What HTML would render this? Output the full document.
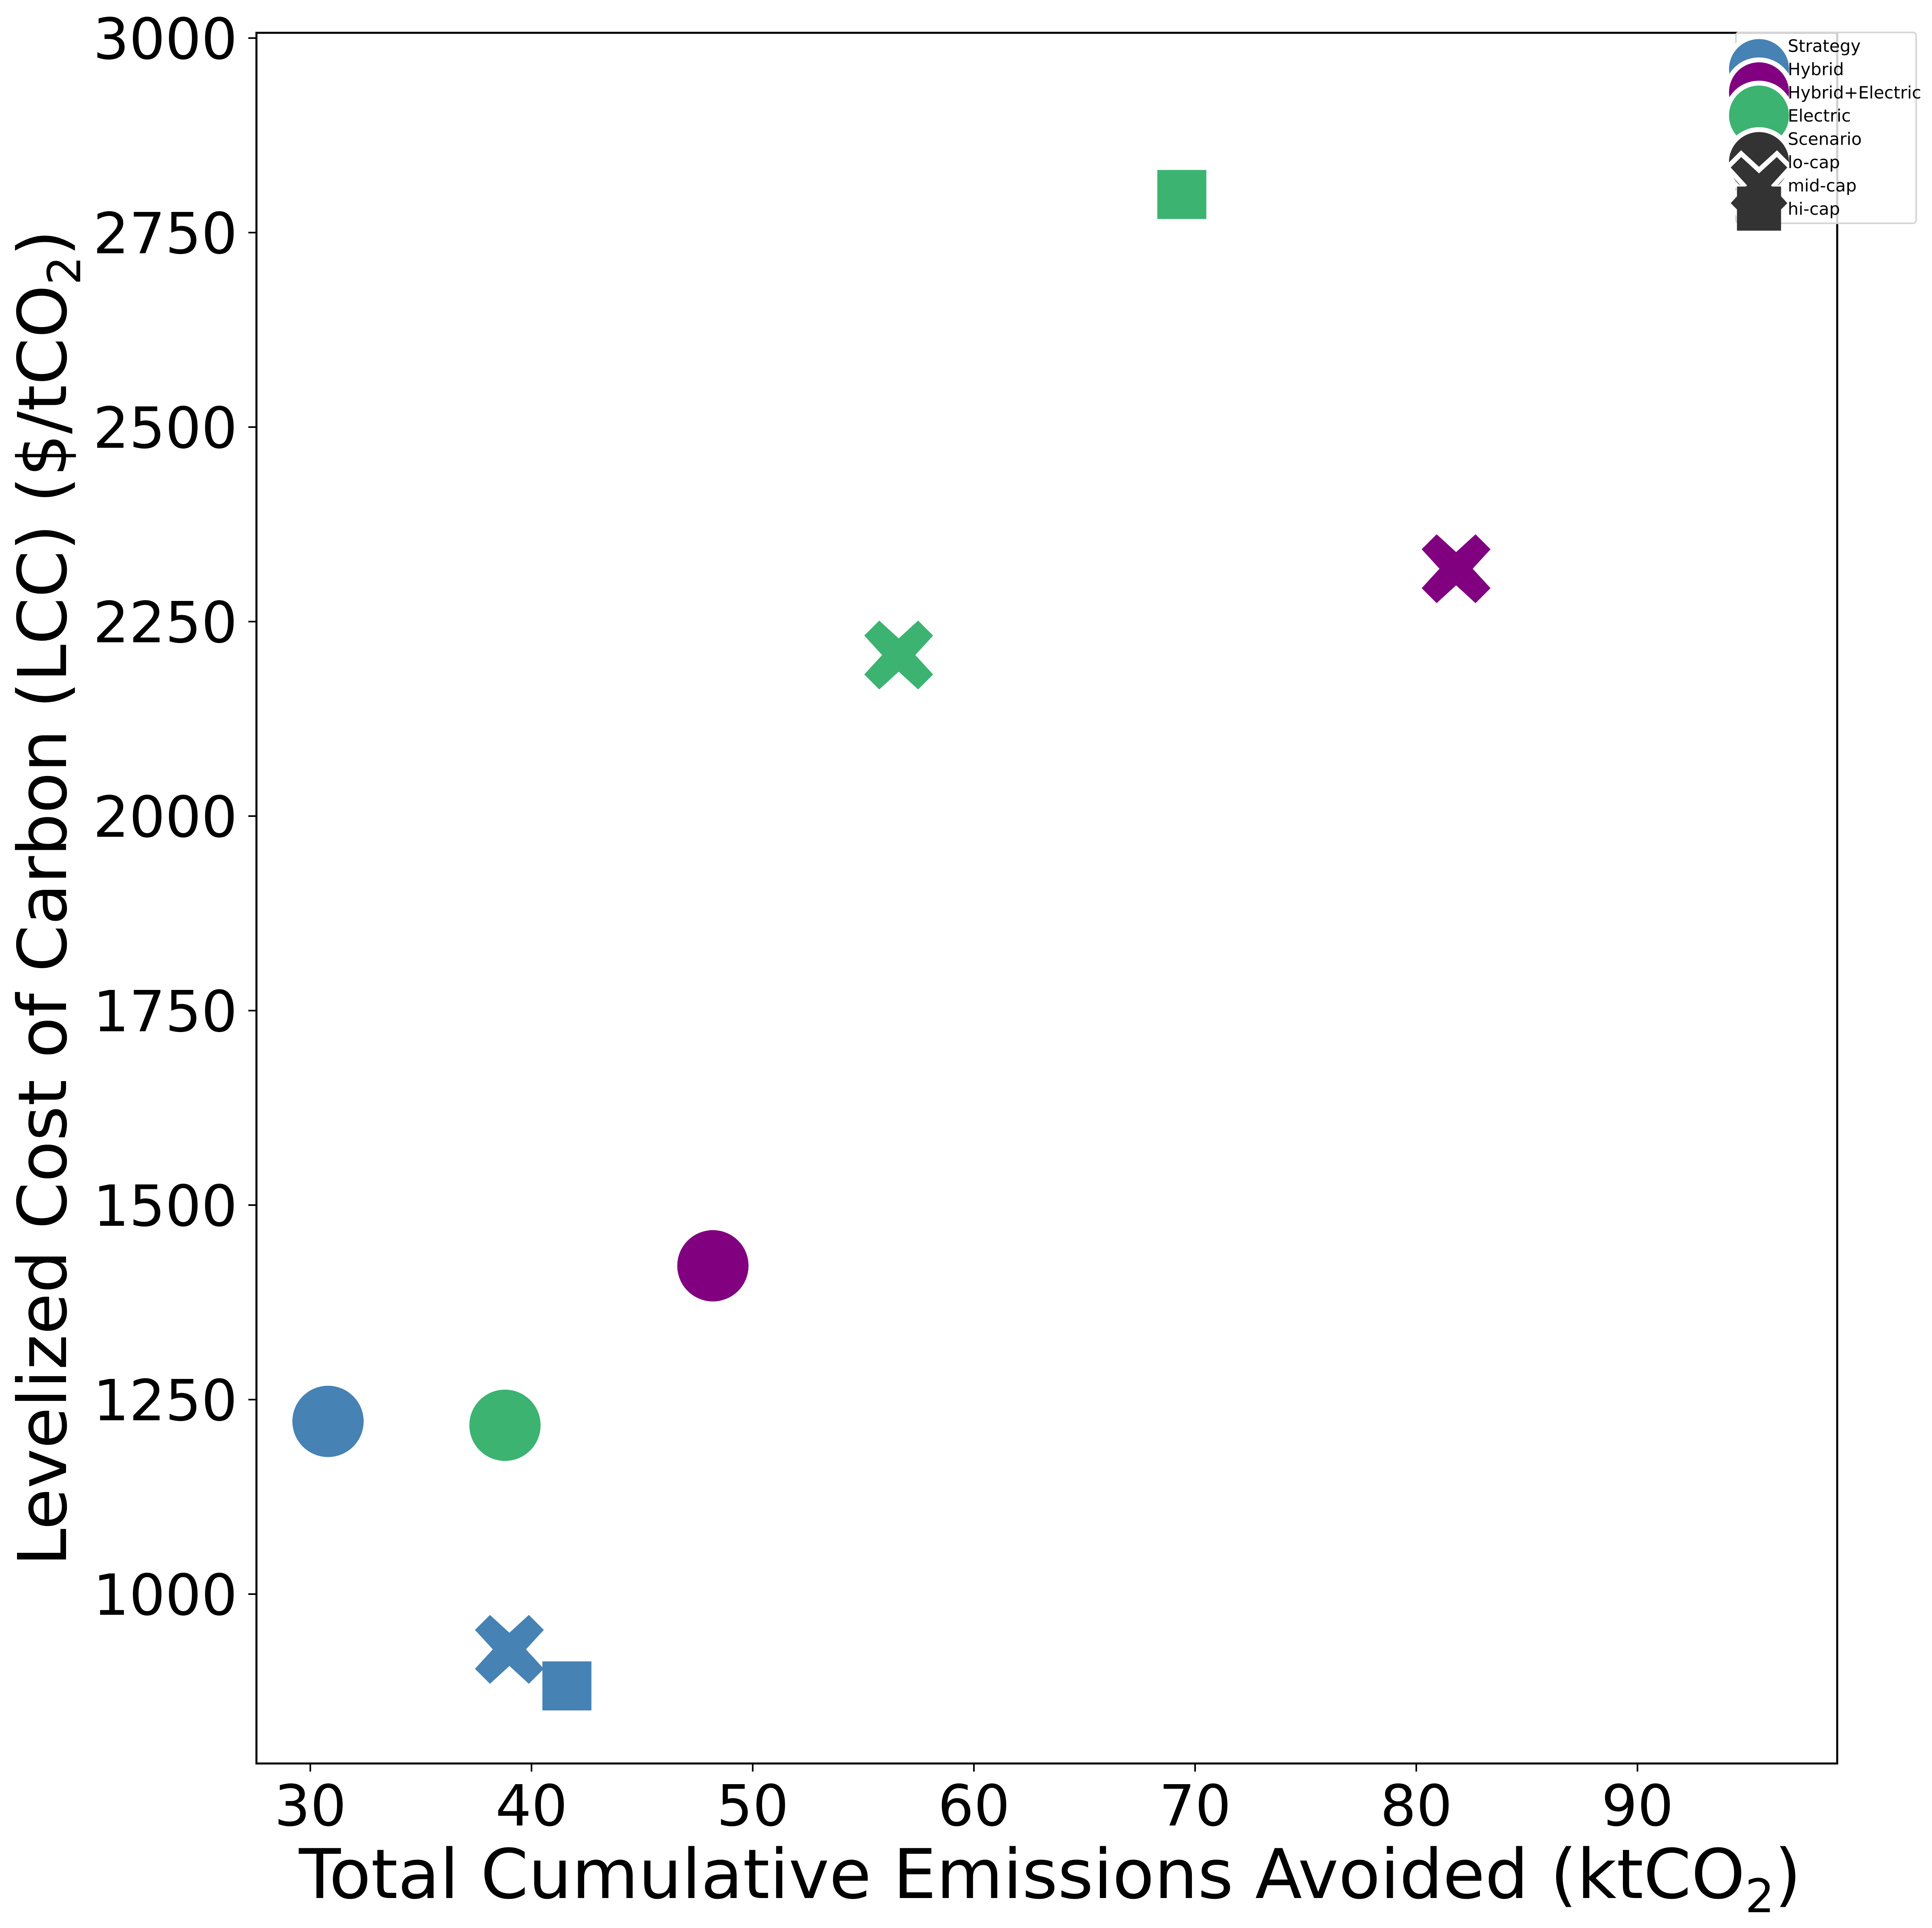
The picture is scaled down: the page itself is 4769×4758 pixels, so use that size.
<!DOCTYPE html>
<html><head><meta charset="utf-8"><style>
html,body{margin:0;padding:0;background:#fff;}
svg{display:block;font-family:"DejaVu Sans","Liberation Sans",sans-serif;}
</style></head><body>
<svg id="chart" width="4769" height="4758" viewBox="0 0 4769 4758" xmlns="http://www.w3.org/2000/svg">
<rect width="4769" height="4758" fill="#fff"/>
<g id="plot"></g>
<g id="axes"></g>
<g id="legend"></g>
</svg>
<script>
const xTicks = [30, 40, 50, 60, 70, 80, 90];
const yTicks = [1000, 1250, 1500, 1750, 2000, 2250, 2500, 2750, 3000];
const strategies = ["Hybrid", "Hybrid+Electric", "Electric"];
const scenarios = ["lo-cap", "mid-cap", "hi-cap"];
const pointStrategy = ["Hybrid", "Hybrid", "Hybrid", "Hybrid+Electric", "Hybrid+Electric", "Electric", "Electric", "Electric"];
const pointScenario = ["lo-cap", "mid-cap", "hi-cap", "lo-cap", "mid-cap", "lo-cap", "mid-cap", "hi-cap"];
const emissions = [30.8, 39.0, 41.6, 48.2, 81.8, 38.8, 56.6, 69.4];
const lcc = [1222, 929, 882, 1422, 2318, 1217, 2207, 2799];

const NS = "http://www.w3.org/2000/svg";
const colors = {"Hybrid":"#4682b4","Hybrid+Electric":"#800080","Electric":"#3cb371"};
const L=633, R=4535, T=81, B=4352;
function xs(v){return 766 + (v-30)*54.6;}
function ys(v){return 94 + (3000-v)*1.92;}
function mk(tag, attrs, parent){const e=document.createElementNS(NS,tag);for(const k in attrs)e.setAttribute(k,attrs[k]);parent.appendChild(e);return e;}
function xPath(cx,cy,a,b,c){
  const p=[[0,-c],[a-b,-a],[a,-a+b],[c,0],[a,a-b],[a-b,a],[0,c],[-a+b,a],[-a,a-b],[-c,0],[-a,-a+b],[-a+b,-a]];
  return "M"+p.map(q=>(cx+q[0])+","+(cy+q[1])).join("L")+"Z";
}
function marker(shape,cx,cy,fill,parent,scale,stroke){
  let e;
  if(shape==="lo-cap") e=mk("circle",{cx:cx,cy:cy,r:88*scale,fill:fill},parent);
  else if(shape==="mid-cap") e=mk("path",{d:xPath(cx,cy,85*scale,37*scale,41*scale),fill:fill},parent);
  else { const s=121*scale; e=mk("rect",{x:cx-s/2,y:cy-s/2,width:s,height:s,fill:fill},parent); }
  if(stroke){e.setAttribute("stroke","#fff");e.setAttribute("stroke-width",stroke);}
  return e;
}
const plot=document.getElementById("plot");
for(let i=0;i<emissions.length;i++){
  const e=marker(pointScenario[i],xs(emissions[i]),ys(lcc[i]),colors[pointStrategy[i]],plot,1,0);
  
  
}
const axes=document.getElementById("axes");
const frame=mk("rect",{x:L,y:T,width:R-L,height:B-T,fill:"none",stroke:"#000","stroke-width":5},axes);


xTicks.forEach(v=>{
  const x=xs(v);
  const t=mk("line",{x1:x,x2:x,y1:B,y2:B+20,stroke:"#000","stroke-width":4},axes);
  
  
  const lb=mk("text",{x:x,y:4505,"text-anchor":"middle","font-size":140,fill:"#000"},axes);
  lb.textContent=v;
  
  
});
yTicks.forEach(v=>{
  const y=ys(v);
  const t=mk("line",{x1:L-20,x2:L,y1:y,y2:y,stroke:"#000","stroke-width":4},axes);
  
  
  const lb=mk("text",{x:586,y:y+51,"text-anchor":"end","font-size":140,fill:"#000"},axes);
  lb.textContent=v;
  
  
});
const xl=mk("text",{x:2592,y:4684,"text-anchor":"middle","font-size":169,fill:"#000"},axes);
xl.innerHTML='Total Cumulative Emissions Avoided (ktCO<tspan font-size="114" dy="35">2</tspan><tspan dy="-35">)</tspan>';


const yl=mk("text",{x:0,y:0,"text-anchor":"middle","font-size":166,fill:"#000",transform:"translate(163,2216) rotate(-90)"},axes);
yl.innerHTML='Levelized Cost of Carbon (LCC) ($/tCO<tspan font-size="112" dy="35">2</tspan><tspan dy="-35">)</tspan>';



const lg=document.getElementById("legend");
const box=mk("rect",{x:4285,y:80,width:445,height:471,rx:8,fill:"#fff","fill-opacity":0.8,stroke:"#d6d6d6","stroke-width":4},lg);


const labels=["Strategy","Hybrid","Hybrid+Electric","Electric","Scenario","lo-cap","mid-cap","hi-cap"];
const rowY=i=>113+i*57.4;
const handles=[[1,"lo-cap","#4682b4"],[2,"lo-cap","#800080"],[3,"lo-cap","#3cb371"],[5,"lo-cap","#333333"],[6,"mid-cap","#333333"],[7,"hi-cap","#333333"]];
handles.forEach(h=>{
  const e=marker(h[1],4342,rowY(h[0]),h[2],lg,h[1]==="lo-cap"?0.91:(h[1]==="mid-cap"?0.92:0.9),12);
  if(h[1]==="hi-cap") e.removeAttribute("stroke");
  
  
});
labels.forEach((s,i)=>{
  const t=mk("text",{x:4413,y:rowY(i)+15,"font-size":42,fill:"#000"},lg);
  t.textContent=s;
  
  
});
</script>
</body></html>
